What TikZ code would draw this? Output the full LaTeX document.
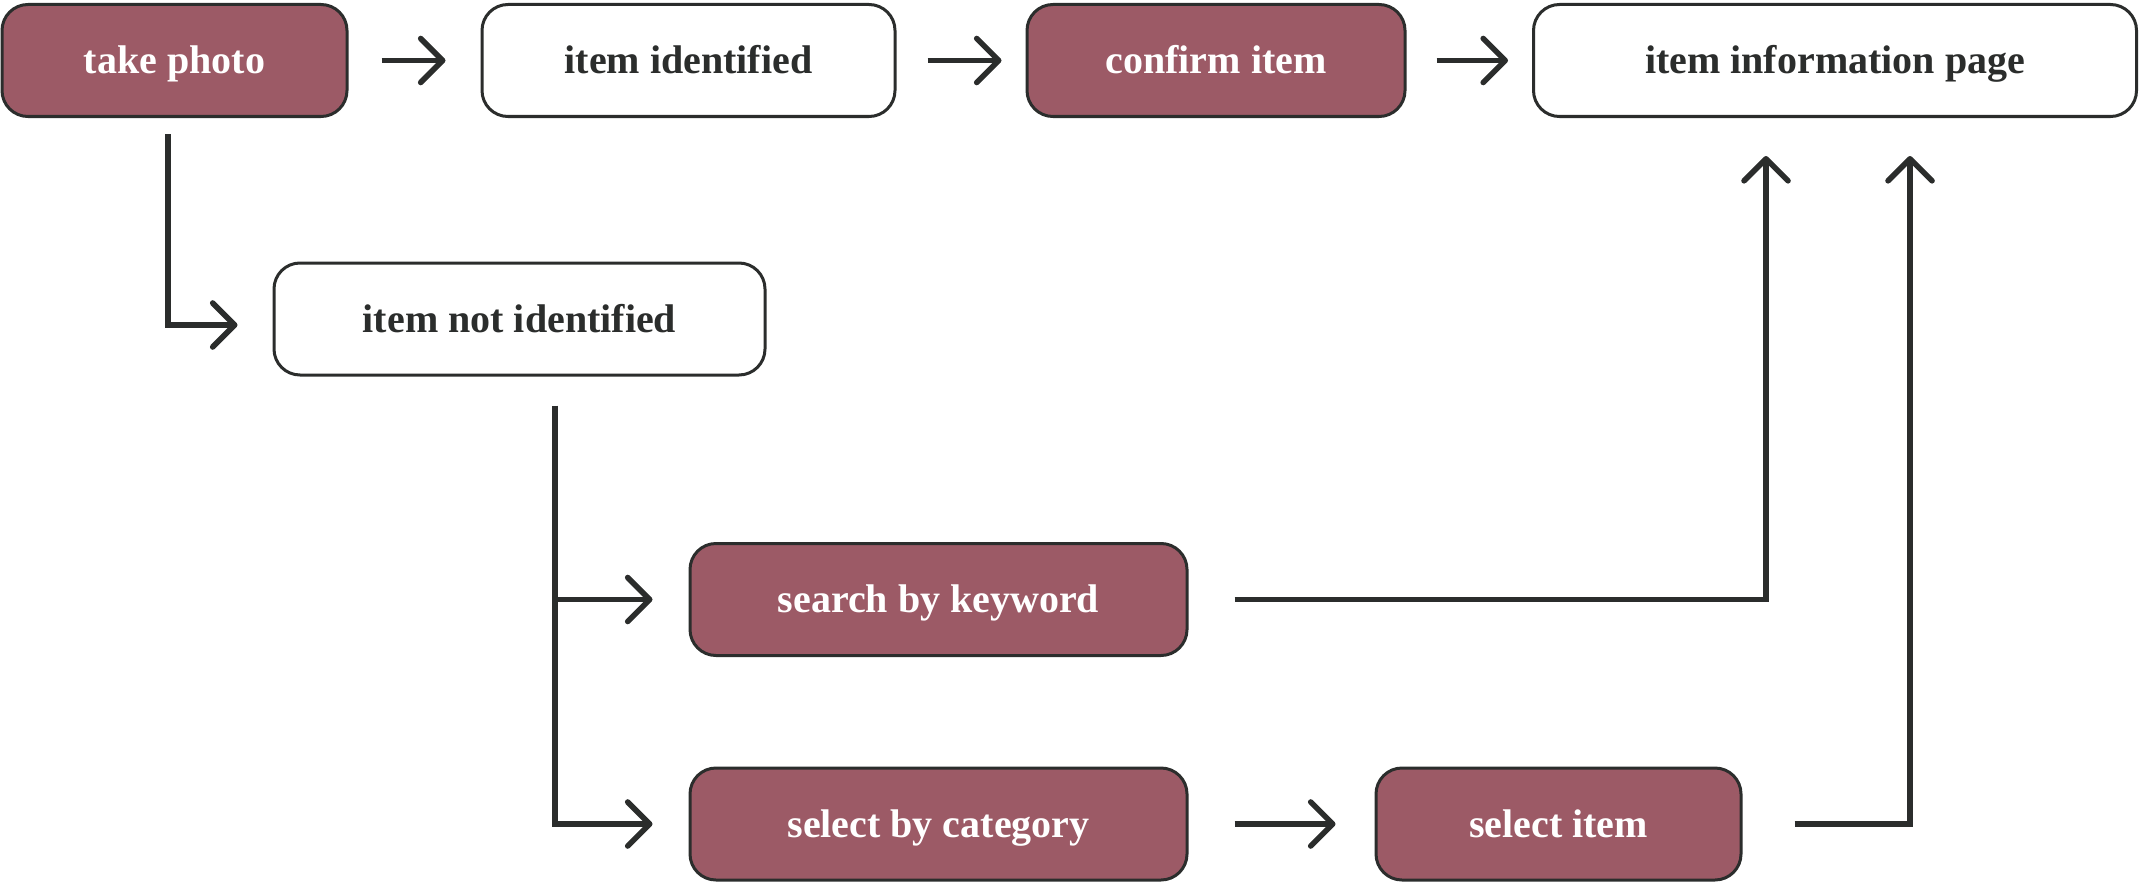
\documentclass[tikz,border=0pt]{standalone}
\usepackage{fontspec}
\setmainfont{Liberation Serif}
\usetikzlibrary{arrows.meta}
\definecolor{mauve}{HTML}{9C5A66}
\definecolor{ink}{HTML}{2B2D2C}
\tikzset{
  box/.style={draw=ink, line width=1.5pt, rounded corners=13pt, inner sep=0pt,
    minimum height=56pt, text height=15.5pt, text depth=2.5pt,
    font=\fontsize{20}{24}\selectfont\bfseries},
  dark/.style={box, fill=mauve, text=white},
  light/.style={box, fill=white, text=ink},
  arr/.style={draw=ink, line width=2.8pt,
    -{Straight Barb[length=11pt,width=22pt,line cap=round,line join=round]}},
}
\begin{document}
\begin{tikzpicture}[x=0.5pt,y=-0.5pt]
\useasboundingbox (0,0) rectangle (2139,883);
\node[dark,  minimum width=172.5pt] (tp)  at (174.5,60.5) {take photo};
\node[light, minimum width=206.5pt] (ii)  at (688.5,60.5) {item identified};
\node[dark,  minimum width=189pt]   (ci)  at (1216,60.5) {confirm item};
\node[light, minimum width=301.5pt] (iip) at (1835,60.5) {item information page};
\node[light, minimum width=245.5pt] (ini) at (519.5,319) {item not identified};
\node[dark,  minimum width=248.5pt] (sk)  at (938.5,599.5) {search by keyword};
\node[dark,  minimum width=248.5pt] (sc)  at (938.5,824) {select by category};
\node[dark,  minimum width=182.5pt] (si)  at (1558.5,824) {select item};

\draw[arr] ([xshift=16.5pt]tp.east) -- ([xshift=-17.5pt]ii.west);
\draw[arr] ([xshift=15.5pt]ii.east) -- ([xshift=-12pt]ci.west);
\draw[arr] ([xshift=15pt]ci.east) -- ([xshift=-12pt]iip.west);

\coordinate (tpd) at ([xshift=-3.25pt,yshift=-8pt]tp.south);
\draw[arr] (tpd) |- ([xshift=-17.5pt,yshift=-3pt]ini.west);

\coordinate (inid) at ([xshift=17.75pt,yshift=-14.5pt]ini.south);
\draw[arr] (inid) -- (inid |- sc.west) -- ([xshift=-18pt]sc.west);
\draw[arr] (inid |- sk.west) -- ([xshift=-18pt]sk.west);

\draw[arr] ([xshift=23pt]sk.east) -| ([xshift=-34.5pt,yshift=-19pt]iip.south);
\draw[arr] ([xshift=23pt]sc.east) -- ([xshift=-19.5pt]si.west);
\draw[arr] ([xshift=26pt]si.east) -| ([xshift=37.5pt,yshift=-19pt]iip.south);
\end{tikzpicture}
\end{document}
